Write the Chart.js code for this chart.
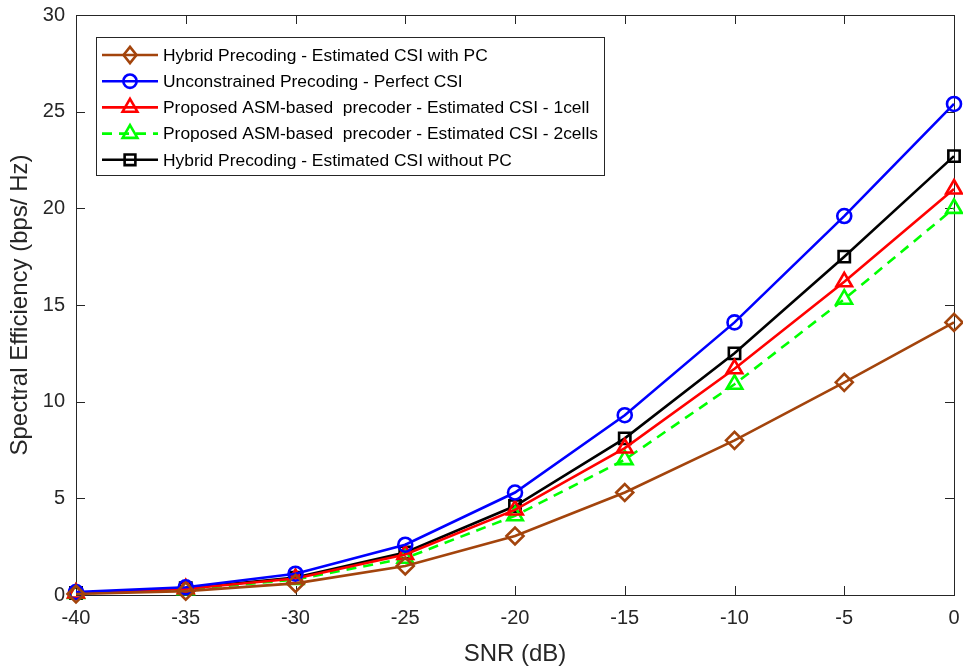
<!DOCTYPE html>
<html>
<head>
<meta charset="utf-8">
<script src="https://cdn.jsdelivr.net/npm/chart.js@4/dist/chart.umd.min.js"></script>
<style>
  html, body { margin: 0; padding: 0; background: #fff; }
  #wrap { width: 963px; height: 671px; position: relative; }
</style>
</head>
<body>
<div id="wrap"><canvas id="c" width="963" height="671"></canvas></div>
<script>
// SNR sweep (dB)
const snr = [-40, -35, -30, -25, -20, -15, -10, -5, 0];

// Spectral efficiency (bps/Hz) per scheme
const hybridWithPC    = [0.05, 0.2, 0.6, 1.5, 3.05, 5.3, 8.0, 11.0, 14.1];
const unconstrained   = [0.15, 0.4, 1.1, 2.6, 5.3, 9.3, 14.1, 19.6, 25.4];
const asm1cell        = [0.1, 0.32, 0.85, 2.1, 4.4, 7.6, 11.7, 16.2, 21.0];
const asm2cells       = [0.08, 0.28, 0.8, 1.9, 4.1, 7.0, 10.9, 15.3, 20.0];
const hybridWithoutPC = [0.1, 0.35, 0.9, 2.2, 4.6, 8.1, 12.5, 17.5, 22.7];

const xTicks = [-40, -35, -30, -25, -20, -15, -10, -5, 0];
const yTicks = [0, 5, 10, 15, 20, 25, 30];

const AXIS = '#262626';
const FONT = "'Liberation Sans', Arial, sans-serif";

function pts(ys) { return snr.map((x, i) => ({ x, y: ys[i] })); }

function series(label, ys, color, style, radius, dash) {
  return {
    label, data: pts(ys),
    borderColor: color, backgroundColor: color,
    borderWidth: 2.6, borderDash: dash || [],
    pointStyle: style, pointRadius: radius, pointHoverRadius: radius,
    pointBorderColor: color, pointBackgroundColor: 'rgba(0,0,0,0)',
    pointBorderWidth: 2.6, tension: 0, fill: false, clip: false
  };
}

const datasets = [
  series('Hybrid Precoding - Estimated CSI with PC', hybridWithPC, '#A3440C', 'rectRot', 8.5),
  series('Unconstrained Precoding - Perfect CSI', unconstrained, '#0000FF', 'circle', 7),
  series('Proposed ASM-based  precoder - Estimated CSI - 1cell', asm1cell, '#FF0000', 'triangle', 9),
  series('Proposed ASM-based  precoder - Estimated CSI - 2cells', asm2cells, '#00FF00', 'triangle', 9, [10, 7]),
  series('Hybrid Precoding - Estimated CSI without PC', hybridWithoutPC, '#000000', 'rect', 8)
];

function marker(ctx, style, x, y, r) {
  ctx.beginPath();
  if (style === 'circle') {
    ctx.arc(x, y, r, 0, Math.PI * 2);
  } else if (style === 'rectRot') {
    ctx.moveTo(x, y - r); ctx.lineTo(x + r * 0.8, y); ctx.lineTo(x, y + r); ctx.lineTo(x - r * 0.8, y); ctx.closePath();
  } else if (style === 'triangle') {
    ctx.moveTo(x, y - r); ctx.lineTo(x + r * 0.866, y + r * 0.5); ctx.lineTo(x - r * 0.866, y + r * 0.5); ctx.closePath();
  } else if (style === 'rect') {
    const s = r * Math.SQRT1_2;
    ctx.rect(x - s, y - s, 2 * s, 2 * s);
  }
  ctx.stroke();
}

// Box frame and inward ticks, drawn under the data
const framePlugin = {
  id: 'frame',
  beforeDatasetsDraw(chart) {
    const { ctx, chartArea: a, scales } = chart;
    ctx.save();
    ctx.strokeStyle = AXIS; ctx.lineWidth = 1;
    ctx.strokeRect(a.left + 0.5, a.top + 0.5, a.right - a.left, a.bottom - a.top);
    const tl = 9;
    ctx.beginPath();
    xTicks.forEach(v => {
      const px = Math.round(scales.x.getPixelForValue(v)) + 0.5;
      ctx.moveTo(px, a.bottom); ctx.lineTo(px, a.bottom - tl);
      ctx.moveTo(px, a.top); ctx.lineTo(px, a.top + tl);
    });
    yTicks.forEach(v => {
      const py = Math.round(scales.y.getPixelForValue(v)) + 0.5;
      ctx.moveTo(a.left, py); ctx.lineTo(a.left + tl, py);
      ctx.moveTo(a.right, py); ctx.lineTo(a.right - tl, py);
    });
    ctx.stroke();
    ctx.restore();
  },
  // in-plot legend on top of the lines
  afterDraw(chart) {
    const { ctx } = chart;
    ctx.save();
    const lx = 96, ly = 37, lw = 508, lh = 138;
    ctx.fillStyle = '#fff';
    ctx.fillRect(lx, ly, lw, lh);
    ctx.strokeStyle = AXIS; ctx.lineWidth = 1;
    ctx.strokeRect(lx + 0.5, ly + 0.5, lw, lh);
    ctx.font = '17.4px ' + FONT;
    ctx.textBaseline = 'middle';
    chart.data.datasets.forEach((ds, i) => {
      const y = 55 + i * 26.2;
      ctx.strokeStyle = ds.borderColor; ctx.lineWidth = 2.6;
      ctx.setLineDash(ds.borderDash);
      ctx.beginPath(); ctx.moveTo(102, y); ctx.lineTo(158, y); ctx.stroke();
      ctx.setLineDash([]);
      ctx.lineWidth = 2.6;
      marker(ctx, ds.pointStyle, 130, y, ds.pointRadius * 0.95);
      ctx.fillStyle = '#000';
      ctx.fillText(ds.label, 163, y + 1);
    });
    ctx.restore();
  }
};

new Chart(document.getElementById('c'), {
  type: 'line',
  data: { datasets },
  plugins: [framePlugin],
  options: {
    responsive: false, animation: false, devicePixelRatio: 1,
    layout: { autoPadding: false, padding: { top: 15, right: 9, left: 0, bottom: 0 } },
    plugins: { legend: { display: false }, tooltip: { enabled: false } },
    scales: {
      x: {
        type: 'linear', min: -40, max: 0,
        afterFit: s => { s.height = 76; s.paddingLeft = 0; s.paddingRight = 0; },
        afterBuildTicks: s => { s.ticks = xTicks.map(v => ({ value: v })); },
        grid: { display: false, drawTicks: false },
        border: { display: false },
        ticks: { color: AXIS, font: { family: FONT, size: 20 }, padding: 11, maxRotation: 0 },
        title: { display: true, text: 'SNR (dB)', color: AXIS, font: { family: FONT, size: 24 }, padding: { top: 2, bottom: 2 } }
      },
      y: {
        type: 'linear', min: 0, max: 30,
        afterFit: s => { s.width = 76; s.paddingTop = 0; s.paddingBottom = 0; },
        afterBuildTicks: s => { s.ticks = yTicks.map(v => ({ value: v })); },
        grid: { display: false, drawTicks: false },
        border: { display: false },
        ticks: { color: AXIS, font: { family: FONT, size: 20 }, padding: 11 },
        title: { display: true, text: 'Spectral Efficiency (bps/ Hz)', color: AXIS, font: { family: FONT, size: 24 }, padding: { top: 6, bottom: 4 } }
      }
    }
  }
});
</script>
</body>
</html>
